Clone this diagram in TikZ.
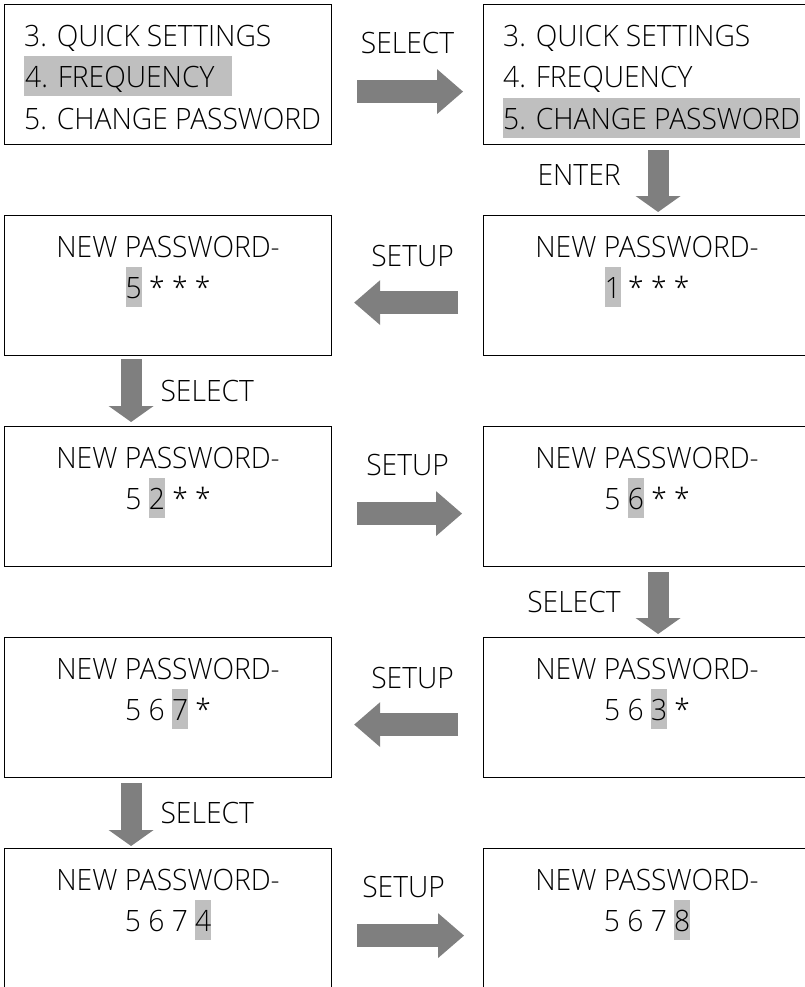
\documentclass[tikz,border=0pt]{standalone}
\usepackage{fontspec}
\IfFontExistsTF{Open Sans Light}
  {\setmainfont{Open Sans Light}[FakeStretch=0.96]}
  {\setmainfont{Open Sans}[FakeStretch=0.92]}
\usepackage{tikz}
\usetikzlibrary{arrows.meta}

\definecolor{arrowgray}{HTML}{7F7F7F}
\definecolor{hlgray}{HTML}{BFBFBF}
\newcommand{\shade}[1]{{\setlength{\fboxsep}{0pt}\colorbox{hlgray}{\rule[-9bp]{0pt}{40bp}#1}}}

\begin{document}
\begin{tikzpicture}[x=1bp, y=-1bp,
        screen/.style={draw, line width=1.2bp, minimum width=327bp, minimum height=140bp, inner sep=0pt, anchor=north west},
        txt/.style={inner sep=0pt, text=black, font=\fontsize{29.5}{35}\selectfont},
        harrow/.style={draw=arrowgray, line width=23bp, -{Triangle[length=26bp, width=45bp, line width=0pt]}},
        varrow/.style={draw=arrowgray, line width=21bp, -{Triangle[length=16bp, width=45bp, line width=0pt]}}]
        \useasboundingbox (0,0) rectangle (805,987);
        \clip (0,0) rectangle (805,987);

        % Screens on the left and on the right
        \foreach \i in {1,2,3,4,5} {
            \node[screen] (L\i) at (4, {4+(\i-1)*211}) {};
            \node[screen] (R\i) at (483, {4+(\i-1)*211}) {};
        }

        % Menu screens
        \node[txt, anchor=base west] (L1-a) at ([xshift=20bp, yshift=-42bp]L1.north west) {3. QUICK SETTINGS};
        \node[txt, anchor=base west] (L1-b) at ([xshift=20bp, yshift=-83bp]L1.north west) {\shade{\hspace{1bp}4. FREQUENCY\hspace{18bp}}};
        \node[txt, anchor=base west] (L1-c) at ([xshift=20bp, yshift=-125bp]L1.north west) {5. CHANGE PASSWORD};
        \node[txt, anchor=base west] (R1-a) at ([xshift=20bp, yshift=-42bp]R1.north west) {3. QUICK SETTINGS};
        \node[txt, anchor=base west] (R1-b) at ([xshift=20bp, yshift=-83bp]R1.north west) {4. FREQUENCY};
        \node[txt, anchor=base west] (R1-c) at ([xshift=20bp, yshift=-125bp]R1.north west) {\shade{5. CHANGE PASSWORD}};

        % Password screens
        \foreach \s/\code in {R2/{\shade{1} * * *}, L2/{\shade{5} * * *}, L3/{5 \shade{2} * *}, R3/{5 \shade{6} * *},
                              R4/{5 6 \shade{3} *}, L4/{5 6 \shade{7} *}, L5/{5 6 7 \shade{4}}, R5/{5 6 7 \shade{8}}} {
            \node[txt, anchor=base] (\s-title) at ([yshift=-42bp]\s.north) {NEW PASSWORD-};
            \node[txt, anchor=base] (\s-code) at ([yshift=-83bp]\s.north) {\code};
        }

        % Arrows across
        \draw[harrow, shorten <=25bp, shorten >=20bp] ([yshift=-17bp]L1.east) -- ([yshift=-17bp]R1.west) node[txt, midway, above=26bp] {SELECT};
        \draw[harrow, shorten <=25bp, shorten >=22bp] ([yshift=-17bp]R2.west) -- ([yshift=-17bp]L2.east) node[txt, midway, above=24bp, xshift=5bp] {SETUP};
        \draw[harrow, shorten <=25bp, shorten >=21bp] ([yshift=-17bp]L3.east) -- ([yshift=-17bp]R3.west) node[txt, midway, above=26bp] {SETUP};
        \draw[harrow, shorten <=25bp, shorten >=22bp] ([yshift=-17bp]R4.west) -- ([yshift=-17bp]L4.east) node[txt, midway, above=24bp, xshift=5bp] {SETUP};
        \draw[harrow, shorten <=25bp, shorten >=19bp] ([yshift=-17bp]L5.east) -- ([yshift=-17bp]R5.west) node[txt, midway, above=26bp, xshift=-4bp] {SETUP};

        % Arrows down
        \draw[varrow, shorten <=5bp, shorten >=3bp] ([xshift=11bp]R1.south) -- ([xshift=11bp]R2.north) node[txt, pos=0.43, left=27bp] {ENTER};
        \draw[varrow, shorten <=3bp, shorten >=4bp] ([xshift=-37bp]L2.south) -- ([xshift=-37bp]L3.north) node[txt, midway, right=19bp] {SELECT};
        \draw[varrow, shorten <=5bp, shorten >=3bp] ([xshift=11bp]R3.south) -- ([xshift=11bp]R4.north) node[txt, midway, left=27bp] {SELECT};
        \draw[varrow, shorten <=5bp, shorten >=2bp] ([xshift=-37bp]L4.south) -- ([xshift=-37bp]L5.north) node[txt, midway, right=19bp] {SELECT};
    \end{tikzpicture}
\end{document}
